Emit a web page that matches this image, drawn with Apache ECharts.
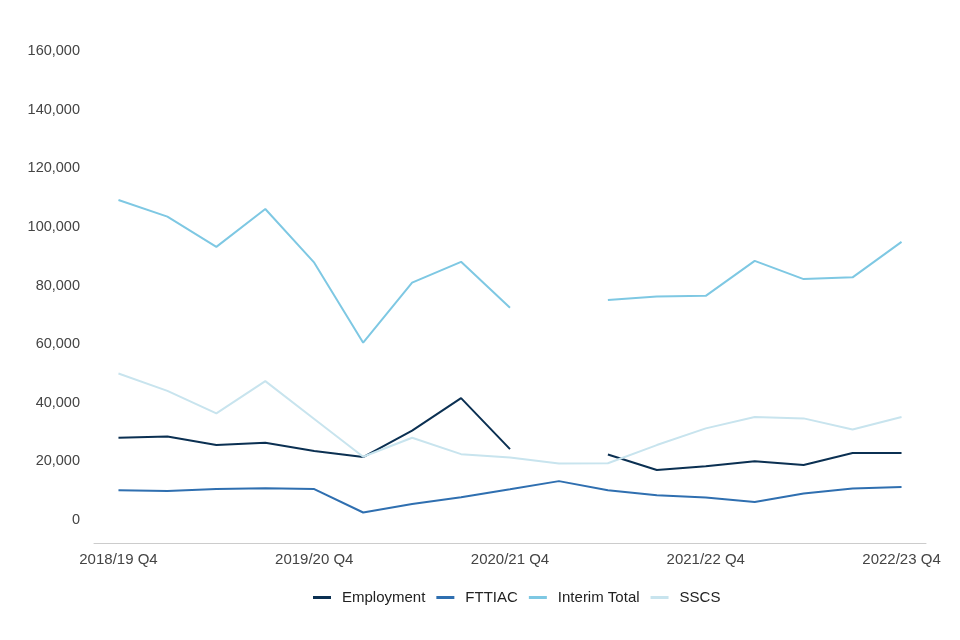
<!DOCTYPE html>
<html>
<head>
<meta charset="utf-8">
<script src="https://cdn.jsdelivr.net/npm/echarts@6/dist/echarts.min.js"></script>
<style>
html,body{margin:0;padding:0;background:#fff;}
#chart{width:960px;height:640px;}
</style>
</head>
<body>
<div id="chart"></div>
<script>
const categories = [
  '2018/19 Q4','2019/20 Q1','2019/20 Q2','2019/20 Q3',
  '2019/20 Q4','2020/21 Q1','2020/21 Q2','2020/21 Q3',
  '2020/21 Q4','2021/22 Q1','2021/22 Q2','2021/22 Q3',
  '2021/22 Q4','2022/23 Q1','2022/23 Q2','2022/23 Q3',
  '2022/23 Q4'
];
const employment = [28100, 28500, 25600, 26400, 23600, 21500, 30500, 41600, 24200, null, 22400, 17100, 18400, 20100, 18800, 22900, 22900];
const fttiac = [10200, 9900, 10600, 10900, 10600, 2600, 5500, 7800, 10500, 13300, 10200, 8500, 7700, 6200, 9100, 10800, 11300];
const interimTotal = [109200, 103500, 93200, 106100, 87800, 60500, 81000, 88100, 72400, null, 75100, 76300, 76500, 88400, 82200, 82800, 94900];
const sscs = [50000, 44100, 36400, 47400, 34500, 21600, 28100, 22500, 21400, 19300, 19400, 25600, 31300, 35200, 34700, 30900, 35200];
const yTickLabels = [0, 20000, 40000, 60000, 80000, 100000, 120000, 140000, 160000];
const yMin = -7800;
const yMax = 160000;

const chart = echarts.init(document.getElementById('chart'));
const font = 'Liberation Sans, Arial, Helvetica, sans-serif';
function mk(name, data, color) {
  return {
    name: name, type: 'line', data: data, showSymbol: false, symbol: 'none',
    connectNulls: false, lineStyle: { width: 2, color: color }, itemStyle: { color: color },
    emphasis: { disabled: true }
  };
}
chart.setOption({
  animation: false,
  textStyle: { fontFamily: font },
  grid: { left: 94, right: 34, top: 51, bottom: 97, containLabel: false },
  xAxis: {
    type: 'category', data: categories, boundaryGap: true,
    axisLine: { show: true, onZero: false, lineStyle: { color: '#cccccc', width: 1 } },
    axisTick: { show: false },
    axisLabel: { interval: 3, color: '#444444', fontSize: 15, fontFamily: font, margin: 9 },
    splitLine: { show: false }
  },
  yAxis: {
    type: 'value', min: yMin, max: yMax,
    axisLine: { show: false }, axisTick: { show: false }, splitLine: { show: false },
    axisLabel: {
      customValues: yTickLabels,
      color: '#444444', fontSize: 14.5, fontFamily: font, margin: 14,
      formatter: v => v.toLocaleString('en-GB')
    }
  },
  legend: {
    bottom: 30, left: 308, icon: 'rect', itemWidth: 18, itemHeight: 3, itemGap: 11,
    textStyle: { color: '#222222', fontSize: 15, fontFamily: font, padding: [0, 0, 0, 6] },
    data: ['Employment', 'FTTIAC', 'Interim Total', 'SSCS']
  },
  series: [
    mk('Employment', employment, '#0b3052'),
    mk('FTTIAC', fttiac, '#2f6fb0'),
    mk('Interim Total', interimTotal, '#7ec8e3'),
    mk('SSCS', sscs, '#c8e4ee')
  ]
});
</script>
</body>
</html>
